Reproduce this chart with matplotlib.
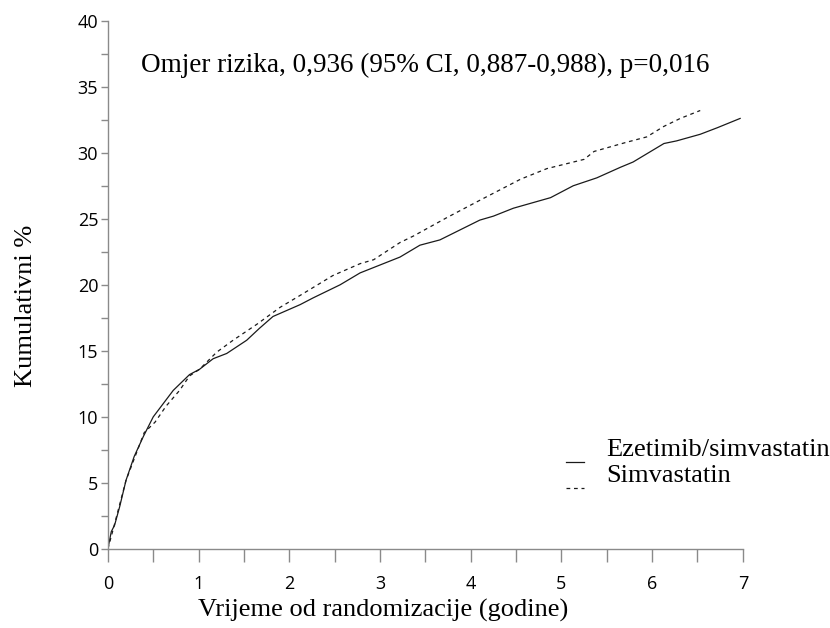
import numpy as np
import matplotlib
matplotlib.use('Agg')
import matplotlib.pyplot as plt
from matplotlib.ticker import MultipleLocator
from matplotlib.legend_handler import HandlerLine2D

# cumulative event curves (years, %)
t_eze = [0, 0.037, 0.074, 0.13, 0.2, 0.29, 0.39, 0.5, 0.61, 0.72, 0.9, 1.01, 1.16, 1.31,
         1.53, 1.67, 1.82, 2.12, 2.26, 2.56, 2.78, 3.0, 3.22, 3.44, 3.66, 4.1, 4.25, 4.47,
         4.88, 5.13, 5.39, 5.65, 5.79, 6.13, 6.27, 6.53, 6.72, 6.97]
v_eze = [0, 1.3, 1.8, 3.2, 5.2, 7.0, 8.5, 10.0, 11.0, 12.0, 13.2, 13.6, 14.4, 14.8,
         15.8, 16.7, 17.6, 18.5, 19.0, 20.0, 20.9, 21.5, 22.1, 23.0, 23.4, 24.9, 25.2, 25.8,
         26.6, 27.5, 28.1, 28.9, 29.3, 30.7, 30.9, 31.4, 31.9, 32.6]

t_sim = [0, 0.055, 0.2, 0.4, 0.52, 0.64, 0.79, 0.9, 1.01, 1.2, 1.38, 1.64, 1.9, 2.12,
         2.48, 2.78, 2.93, 3.22, 3.37, 3.74, 4.1, 4.55, 4.84, 5.25, 5.36, 5.72, 5.94,
         6.13, 6.31, 6.53]
v_sim = [0, 1.4, 5.2, 8.8, 9.6, 10.8, 12.0, 13.1, 13.6, 14.9, 15.8, 17.0, 18.3, 19.2,
         20.7, 21.6, 21.9, 23.2, 23.7, 25.1, 26.4, 28.0, 28.8, 29.5, 30.1, 30.8, 31.2,
         32.0, 32.6, 33.2]

names = ['Ezetimib/simvastatin', 'Simvastatin']
hr_text = 'Omjer rizika, 0,936 (95% CI, 0,887-0,988), p=0,016'

serif = 'Liberation Serif'
sans = 'Open Sans'
grey = '#8a8a8a'


class LowHandler(HandlerLine2D):
    # legend sample sits near the text baseline, like an underscore
    def create_artists(self, legend, orig_handle, xdescent, ydescent, width, height,
                       fontsize, trans):
        return super().create_artists(legend, orig_handle, xdescent, ydescent + 22,
                                      width, height, fontsize, trans)


fig = plt.figure(figsize=(8.3, 6.28), dpi=100)
ax = fig.add_axes([0.130, 0.126, 0.765, 0.841])

ax.plot(t_eze, v_eze, color='#1a1a1a', lw=0.9, label=names[0])
ax.plot(t_sim, v_sim, color='#1a1a1a', lw=0.9, ls=(0, (3, 3)), label=names[1])

ax.set_xlim(0, 7)
ax.set_ylim(0, 40)
ax.xaxis.set_major_locator(MultipleLocator(1))
ax.xaxis.set_minor_locator(MultipleLocator(0.5))
ax.yaxis.set_major_locator(MultipleLocator(5))
ax.yaxis.set_minor_locator(MultipleLocator(2.5))

for s in ['top', 'right']:
    ax.spines[s].set_visible(False)
for s in ['left', 'bottom']:
    ax.spines[s].set_color(grey)
    ax.spines[s].set_linewidth(1.0)

ax.tick_params(axis='x', which='both', length=9, color=grey, width=1.0, pad=10)
ax.tick_params(axis='y', which='both', length=5, color=grey, width=1.0, pad=2)
for lab in ax.get_xticklabels() + ax.get_yticklabels():
    lab.set_fontfamily(sans)
    lab.set_fontsize(13)

ax.set_xlabel('Vrijeme od randomizacije (godine)', fontfamily=serif, fontsize=19)
ax.xaxis.set_label_coords(0.433, -0.095)
ax.set_ylabel('Kumulativni %', fontfamily=serif, fontsize=19)
ax.yaxis.set_label_coords(-0.111, 0.46)

ax.text(0.052, 0.903, hr_text, transform=ax.transAxes, fontfamily=serif, fontsize=19.5,
        va='baseline', ha='left')

leg = ax.legend(loc='lower left', bbox_to_anchor=(0.721, 0.117), frameon=False,
                handlelength=0.7, handletextpad=0.85, labelspacing=0.1,
                borderaxespad=0, borderpad=0,
                handler_map={plt.Line2D: LowHandler()},
                prop={'family': serif, 'size': 19})

fig.savefig('out.png', dpi=100)
